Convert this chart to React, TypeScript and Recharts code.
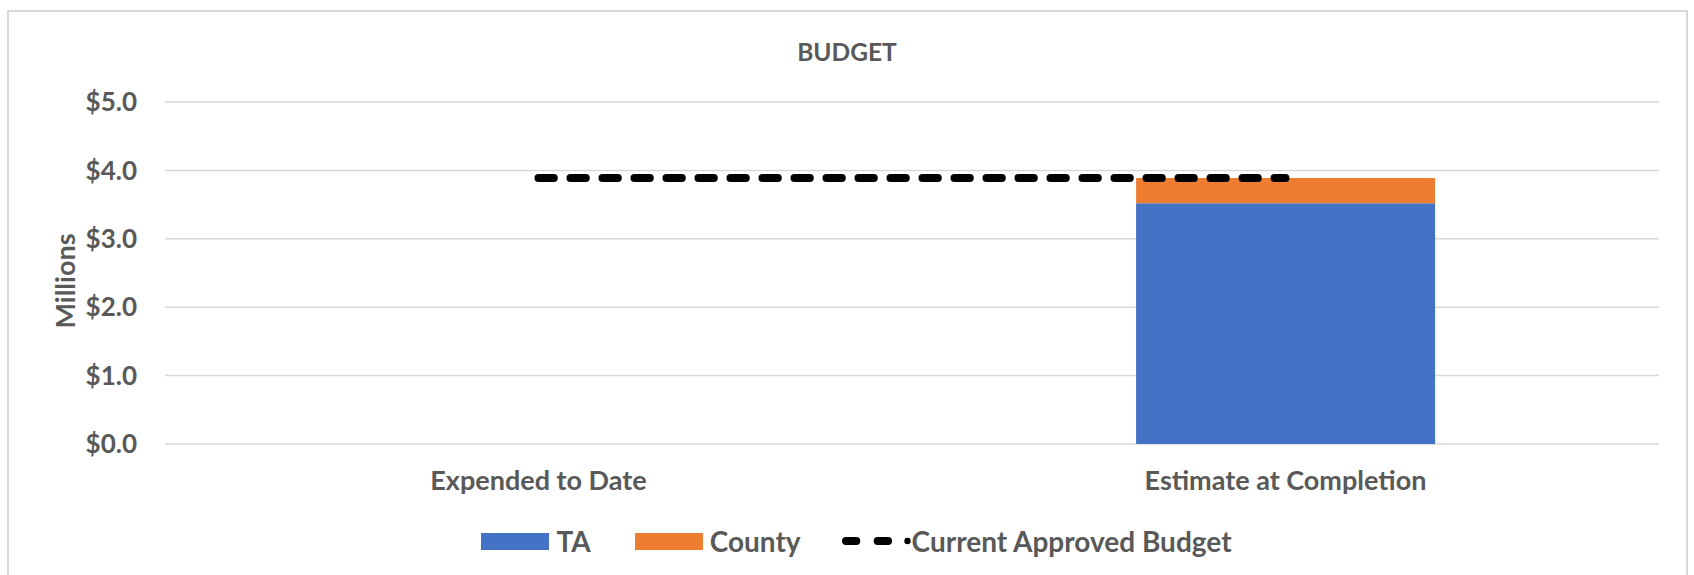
import React from 'react';
import { ComposedChart, Bar, Line, XAxis, YAxis, CartesianGrid, Legend } from 'recharts';

const categories = ['Expended to Date', 'Estimate at Completion'];
const taValues = [0, 3.52];
const countyValues = [0, 0.37];
const budgetValues = [3.89, 3.89];
const yTicks = [0, 1, 2, 3, 4, 5];
const seriesNames = { ta: 'TA', county: 'County', budget: 'Current Approved Budget' };
const colors = { ta: '#4472C4', county: '#ED7D31', budget: '#000000' };

const data = categories.map((name, i) => ({
  name,
  ta: taValues[i],
  county: countyValues[i],
  budget: budgetValues[i],
}));

const FONT = 'Lato, "Noto Sans", sans-serif';
const TEXT = '#595959';

const LegendContent = () => (
  <div
    style={{
      display: 'flex',
      justifyContent: 'center',
      alignItems: 'center',
      height: 50,
      fontFamily: FONT,
      fontWeight: 700,
      fontSize: 28,
      color: TEXT,
      paddingLeft: 54,
    }}
  >
    <div style={{ display: 'flex', alignItems: 'center' }}>
      <div style={{ width: 68, height: 17, background: colors.ta, marginRight: 7 }} />
      <span>{seriesNames.ta}</span>
    </div>
    <div style={{ display: 'flex', alignItems: 'center', marginLeft: 44 }}>
      <div style={{ width: 68, height: 17, background: colors.county, marginRight: 7 }} />
      <span>{seriesNames.county}</span>
    </div>
    <div style={{ display: 'flex', alignItems: 'center', marginLeft: 41 }}>
      <svg width={70} height={10} style={{ display: 'block' }}>
        <rect x={0} y={1} width={18.3} height={8} rx={4} fill={colors.budget} />
        <rect x={31.7} y={1} width={18.3} height={8} rx={4} fill={colors.budget} />
        <circle cx={65.5} cy={5} r={3.2} fill={colors.budget} />
      </svg>
      <span>{seriesNames.budget}</span>
    </div>
  </div>
);

const MillionsLabel = (props: any) => {
  const vb = props.viewBox || { y: 102, height: 342 };
  const cy = vb.y + vb.height / 2 + 8;
  return (
    <text
      x={75}
      y={cy}
      transform={`rotate(-90, 75, ${cy})`}
      textAnchor="middle"
      fill={TEXT}
      fontFamily={FONT}
      fontWeight={700}
      fontSize={27}
    >
      Millions
    </text>
  );
};

export default function App() {
  return (
    <div
      style={{
        position: 'fixed',
        left: 0,
        top: 0,
        width: 1694,
        height: 575,
        overflow: 'hidden',
        background: '#fff',
      }}
    >
      <div
        style={{
          position: 'absolute',
          left: 7,
          top: 10,
          width: 1681,
          height: 600,
          border: '2px solid #d9d9d9',
          boxSizing: 'border-box',
        }}
      />
      <div
        style={{
          position: 'absolute',
          left: 0,
          top: 37,
          width: 1694,
          height: 30,
          lineHeight: '30px',
          textAlign: 'center',
          fontFamily: FONT,
          fontWeight: 700,
          fontSize: 24.5,
          color: TEXT,
        }}
      >
        BUDGET
      </div>
      <div style={{ position: 'absolute', left: 0, top: 0 }}>
        <ComposedChart
          width={1694}
          height={575}
          data={data}
          margin={{ top: 102, right: 35, bottom: 9, left: 0 }}
          barCategoryGap="30%"
        >
          <CartesianGrid vertical={false} stroke="#d9d9d9" strokeWidth={1.5} />
          <XAxis
            dataKey="name"
            axisLine={false}
            tickLine={false}
            tickSize={0}
            tickMargin={27}
            height={72}
            tick={{ fill: TEXT, fontFamily: FONT, fontWeight: 700, fontSize: 27 }}
          />
          <YAxis
            width={165}
            domain={[0, 5]}
            ticks={yTicks}
            interval={0}
            axisLine={false}
            tickLine={false}
            tickSize={0}
            tickMargin={28}
            tickFormatter={(v: number) => `$${v.toFixed(1)}`}
            tick={{ fill: TEXT, fontFamily: FONT, fontWeight: 700, fontSize: 26 }}
            label={{ content: MillionsLabel }}
          />
          <Legend verticalAlign="bottom" height={50} content={LegendContent} />
          <Bar dataKey="ta" stackId="a" fill={colors.ta} isAnimationActive={false} />
          <Bar dataKey="county" stackId="a" fill={colors.county} isAnimationActive={false} />
          <Line
            type="linear"
            dataKey="budget"
            stroke={colors.budget}
            strokeWidth={8}
            strokeDasharray="15.3 16.7"
            strokeLinecap="round"
            dot={false}
            activeDot={false}
            isAnimationActive={false}
          />
        </ComposedChart>
      </div>
    </div>
  );
}
